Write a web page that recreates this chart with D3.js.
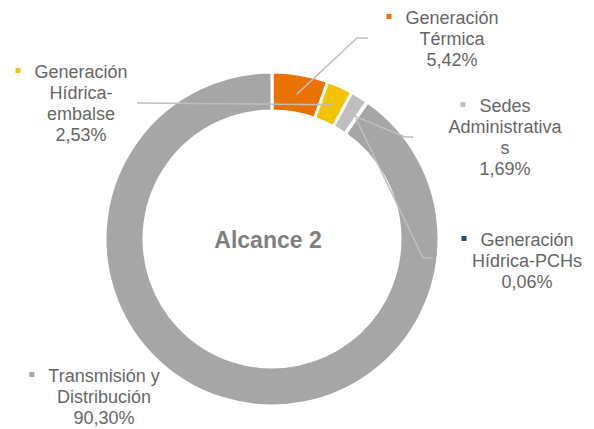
<!DOCTYPE html>
<html lang="es">
<head>
<meta charset="UTF-8">
<title>Alcance 2</title>
<script src="https://cdn.jsdelivr.net/npm/d3@7"></script>
<style>
  body { margin: 0; background: #fff; }
  text { font-family: 'Liberation Sans', Arial, sans-serif; }
</style>
</head>
<body>
<div id="chart"></div>
<script>
// data
const categories = ["Generación Térmica", "Generación Hídrica-embalse", "Sedes Administrativas", "Generación Hídrica-PCHs", "Transmisión y Distribución"]
const values = [5.42, 2.53, 1.69, 0.06, 90.30]
const valueLabels = ["5,42%", "2,53%", "1,69%", "0,06%", "90,30%"]
const labelLines = [
  ["Generación", "Térmica"],
  ["Generación", "Hídrica-", "embalse"],
  ["Sedes", "Administrativa", "s"],
  ["Generación", "Hídrica-PCHs"],
  ["Transmisión y", "Distribución"]
]
const colors = ["#E97200", "#F2C300", "#BFBFBF", "#1F4E79", "#A6A6A6"]

// layout: label center x, first baseline y, leader line bend points
const layout = [
  { x: 452, y: 24, leader: [[357, 38], [368, 38]] },
  { x: 81, y: 78, leader: [[137, 103]] },
  { x: 505, y: 112, leader: [[405, 137], [413, 137]] },
  { x: 527, y: 246, leader: [[423, 258], [433, 258]] },
  { x: 104, y: 382, leader: null }
]

const width = 594, height = 429
const cx = 272, cy = 239
const outerR = 167, innerR = 128
const lineH = 21

const svg = d3.select("#chart").append("svg")
  .attr("width", width)
  .attr("height", height)

const pie = d3.pie().sort(null).value(d => d)
const arcs = pie(values)
const arc = d3.arc().innerRadius(innerR).outerRadius(outerR)
const leaderArc = d3.arc().innerRadius(147).outerRadius(147)

const g = svg.append("g").attr("transform", `translate(${cx},${cy})`)

g.selectAll("path.slice")
  .data(arcs)
  .enter().append("path")
  .attr("class", "slice")
  .attr("d", arc)
  .attr("fill", (d, i) => colors[i])
  .attr("stroke", "#fff")
  .attr("stroke-width", 3)

// leader lines
const line = d3.line()
arcs.forEach((d, i) => {
  if (!layout[i].leader) return
  const c = leaderArc.centroid(d)
  const pts = [[c[0] + cx, c[1] + cy]].concat(layout[i].leader)
  svg.append("path")
    .attr("d", line(pts))
    .attr("fill", "none")
    .attr("stroke", "#BFBFBF")
    .attr("stroke-width", 1.5)
})

// labels
categories.forEach((cat, i) => {
  const L = layout[i]
  const lines = labelLines[i].concat([valueLabels[i]])
  const t = svg.append("text")
    .attr("text-anchor", "middle")
    .attr("font-size", 18)
    .attr("fill", "#666666")
  lines.forEach((s, j) => {
    t.append("tspan").attr("x", L.x).attr("y", L.y + j * lineH).text(s)
  })
  const w = t.select("tspan").node().getComputedTextLength()
  svg.append("rect")
    .attr("x", L.x - w / 2 - 19)
    .attr("y", L.y - 10)
    .attr("width", 5)
    .attr("height", 5)
    .attr("fill", colors[i])
})

svg.append("text")
  .attr("x", 268)
  .attr("y", 248)
  .attr("text-anchor", "middle")
  .attr("font-size", 23)
  .attr("font-weight", "bold")
  .attr("fill", "#7F7F7F")
  .text("Alcance 2")
</script>
</body>
</html>
